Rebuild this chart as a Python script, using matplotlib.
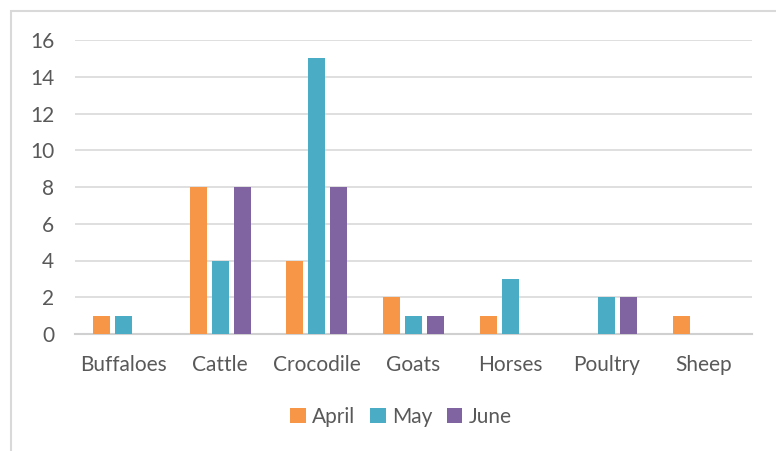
import numpy as np
import matplotlib
matplotlib.use("Agg")
import matplotlib.pyplot as plt
from matplotlib.patches import Rectangle

categories = ["Buffaloes", "Cattle", "Crocodile", "Goats", "Horses", "Poultry", "Sheep"]
april = [1, 8, 4, 2, 1, 0, 1]
may = [1, 4, 15, 1, 3, 2, 0]
june = [0, 8, 8, 1, 0, 2, 0]
series_names = ["April", "May", "June"]
colors = ["#F79646", "#4BACC6", "#8064A2"]
yticks = [0, 2, 4, 6, 8, 10, 12, 14, 16]

plt.rcParams['font.family'] = ['Lato', 'DejaVu Sans']
text_color = "#595959"
fsize = 15

fig = plt.figure(figsize=(7.76, 4.51), dpi=100)
ax = fig.add_axes([75 / 776, 1 - 334 / 451, (752 - 75) / 776, (334 - 40) / 451])

# chart frame, as in the source the right and bottom edges are cut off
fig.patches.append(Rectangle((10.5 / 776, -0.1), 1.0, 1 - 10.5 / 451 + 0.1,
                             transform=fig.transFigure, fill=False,
                             edgecolor="#d9d9d9", linewidth=1.5, zorder=0))

x = np.arange(len(categories))
width = 0.176
offset = 0.227
for i, (vals, name, col) in enumerate(zip([april, may, june], series_names, colors)):
    ax.bar(x + (i - 1) * offset, vals, width, color=col, label=name, zorder=3)

ax.set_xlim(-0.5, len(categories) - 0.5)
ax.set_ylim(0, 16)
ax.set_yticks(yticks)
ax.set_xticks(x)
ax.set_xticklabels(categories)
ax.yaxis.grid(True, color="#d9d9d9", linewidth=1.2, zorder=0)
ax.set_axisbelow(True)
for s in ["top", "right", "left"]:
    ax.spines[s].set_visible(False)
ax.spines["bottom"].set_color("#d0d0d0")
ax.spines["bottom"].set_linewidth(1.5)
ax.tick_params(axis="both", length=0, labelsize=fsize, colors=text_color)
ax.tick_params(axis="x", pad=15)
ax.tick_params(axis="y", pad=15)

leg = fig.legend(loc="center", bbox_to_anchor=(401 / 776, 1 - 417 / 451), ncol=3,
                 frameon=False, fontsize=fsize, handlelength=0.75, handleheight=0.75,
                 handletextpad=0.3, columnspacing=0.7)
for t in leg.get_texts():
    t.set_color(text_color)

fig.savefig("out.png", dpi=100)
